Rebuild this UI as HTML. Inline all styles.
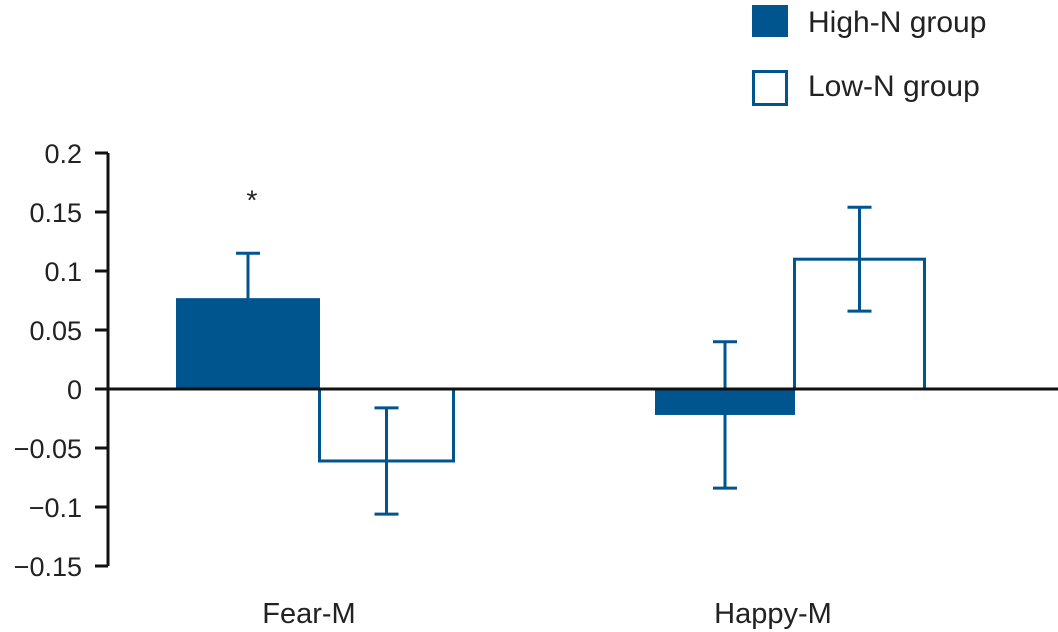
<!DOCTYPE html>
<html><head><meta charset="utf-8"><style>
html,body{margin:0;padding:0;background:#fff;}
svg{display:block;font-family:"Liberation Sans",sans-serif;}
</style></head><body>
<svg id="chart" width="1058" height="632" viewBox="0 0 1058 632">
<g id="axes"></g><g id="bars"></g>
<g>
<rect x="752" y="5" width="36" height="32" fill="#00558f"/>
<text x="808" y="32" font-size="30" fill="#222">High-N group</text>
<rect x="753.5" y="71.5" width="33" height="33" fill="none" stroke="#00558f" stroke-width="3"/>
<text x="808" y="96" font-size="30" fill="#222">Low-N group</text>
</g>
</svg>
<script>
const categories = ["Fear-M", "Happy-M"];
const highValues = [0.077, -0.022];
const highErrors = [0.038, 0.062];
const lowValues = [-0.061, 0.110];
const lowErrors = [0.045, 0.044];
const significance = ["*", ""];
const yTicks = [0.2, 0.15, 0.1, 0.05, 0, -0.05, -0.1, -0.15];
const yTickLabels = ["0.2", "0.15", "0.1", "0.05", "0", "\u22120.05", "\u22120.1", "\u22120.15"];

const NS = "http://www.w3.org/2000/svg";
const C = "#00558f";
const y = v => 389 - v * 1180;
const groupLeft = [176, 655];
const highW = [144, 140];
const lowW = [137, 133];
const labelX = [309, 773];
function mk(tag, attrs, parent){const e=document.createElementNS(NS,tag);for(const k in attrs)e.setAttribute(k,attrs[k]);parent.appendChild(e);return e;}
const axes=document.getElementById("axes"), bars=document.getElementById("bars");

const yAxis = mk("line",{x1:108,x2:108,y1:y(0.2),y2:y(-0.15),stroke:"#111","stroke-width":3},axes);


yTicks.forEach((t,i)=>{
  const tk=mk("line",{x1:95,x2:108,y1:y(t),y2:y(t),stroke:"#111","stroke-width":3},axes);
  
  
  const tx=mk("text",{x:82,y:y(t)+10,"font-size":27,"text-anchor":"end",fill:"#222"},axes);
  tx.textContent=yTickLabels[i];
  
  
});

categories.forEach((c,i)=>{
  const x0=groupLeft[i];
  const hv=highValues[i];
  const hb=mk("rect",{x:x0,y:Math.min(y(hv),y(0)),width:highW[i],height:Math.abs(y(hv)-y(0)),fill:C},bars);
  
  
  const lv=lowValues[i];
  const lx=x0+highW[i]-2;
  const lb=mk("rect",{x:lx+1.5,y:Math.min(y(lv),y(0)),width:lowW[i]-3,height:Math.abs(y(lv)-y(0)),fill:"none",stroke:C,"stroke-width":3},bars);
  
  
  [[x0+highW[i]/2,hv,highErrors[i],'high'],[lx+lowW[i]/2,lv,lowErrors[i],'low']].forEach(([cx,v,e,nm])=>{
    const g=mk("g",{stroke:C,"stroke-width":3},bars);
    
    
    mk("line",{x1:cx,x2:cx,y1:y(v+e),y2:y(v-e)},g);
    mk("line",{x1:cx-12,x2:cx+12,y1:y(v+e),y2:y(v+e)},g);
    mk("line",{x1:cx-12,x2:cx+12,y1:y(v-e),y2:y(v-e)},g);
  });
  if(significance[i]){
    const s=mk("text",{x:x0+highW[i]/2+4,y:y(hv+highErrors[i])-44,"font-size":28,"text-anchor":"middle",fill:"#222"},bars);
    s.textContent=significance[i];
    
    
  }
  const cl=mk("text",{x:labelX[i],y:623,"font-size":29,"text-anchor":"middle",fill:"#222"},axes);
  cl.textContent=c;
  
  
});
const zl=mk("line",{x1:108,x2:1058,y1:y(0),y2:y(0),stroke:"#111","stroke-width":3},bars);


</script>
</body></html>
